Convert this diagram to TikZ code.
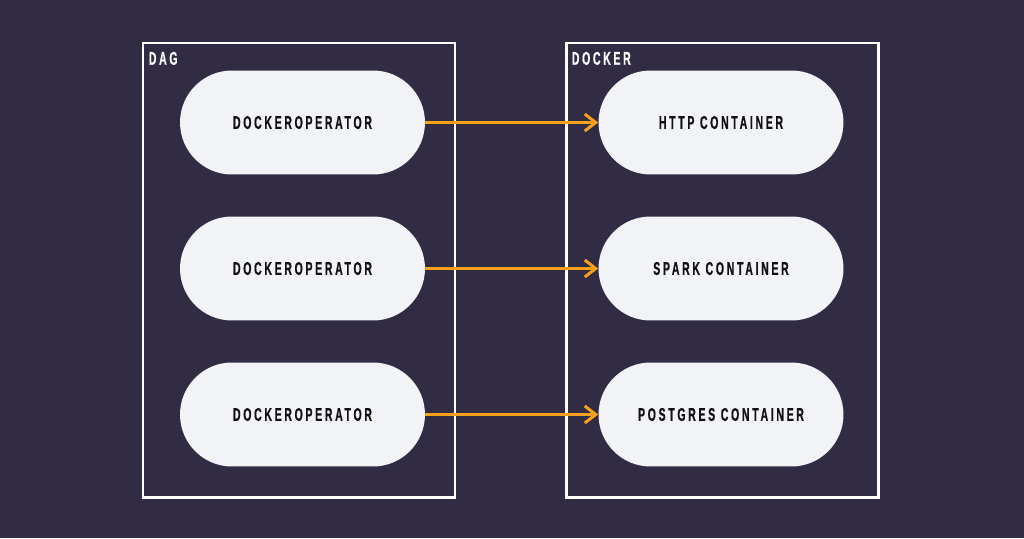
\documentclass[tikz,border=0pt]{standalone}
\usepackage{fontspec}
\usepackage{tikz}
\usetikzlibrary{positioning,arrows.meta}
\newfontfamily\pillfont[FakeStretch=0.57,LetterSpace=14.5,FakeBold=0.6]{Liberation Sans Bold}
\definecolor{bgdark}{RGB}{49,44,68}
\definecolor{pillbg}{RGB}{242,243,247}
\definecolor{pilltxt}{RGB}{17,17,20}
\definecolor{accent}{RGB}{247,161,26}
\tikzset{
  pill/.style={draw=none,fill=pillbg,rounded corners=1.04cm,minimum width=4.9cm,minimum height=2.08cm,
    font=\pillfont\fontsize{10.5}{12}\selectfont,text=pilltxt,inner sep=0pt},
  frame/.style={draw=white,line width=1.7pt},
  tag/.style={anchor=north west,text=white,font=\pillfont\fontsize{10.5}{12}\selectfont,inner sep=0pt},
  ar/.style={-{Straight Barb[length=2.2mm,width=3.4mm,line width=1.7pt]},accent,line width=1.7pt},
}
\begin{document}
\begin{tikzpicture}[x=0.02cm,y=-0.02cm]
  \fill[bgdark] (0,0) rectangle (1024,538);
  \useasboundingbox (0,0) rectangle (1024,538);
  % frames
  \draw[frame] (143,43) rectangle (455,497);
  \draw[frame] (566,43) rectangle (878,497);
  \node[tag] (dag) at (148.5,51.5) {DAG};
  \node[tag] (docker) at (571.5,51.5) {DOCKER};
  % operators
  \node[pill] (op1) at (302.5,122.5) {DOCKEROPERATOR};
  \node[pill] (op2) at (302.5,268.5) {DOCKEROPERATOR};
  \node[pill] (op3) at (302.5,414.5) {DOCKEROPERATOR};
  % containers
  \node[pill] (http) at (721,122.5) {HTTP CONTAINER};
  \node[pill] (spark) at (721,268.5) {SPARK CONTAINER};
  \node[pill] (pg) at (721,414.5) {POSTGRES CONTAINER};
  \draw[ar] (op1) -- (http);
  \draw[ar] (op2) -- (spark);
  \draw[ar] (op3) -- (pg);
\end{tikzpicture}
\end{document}
